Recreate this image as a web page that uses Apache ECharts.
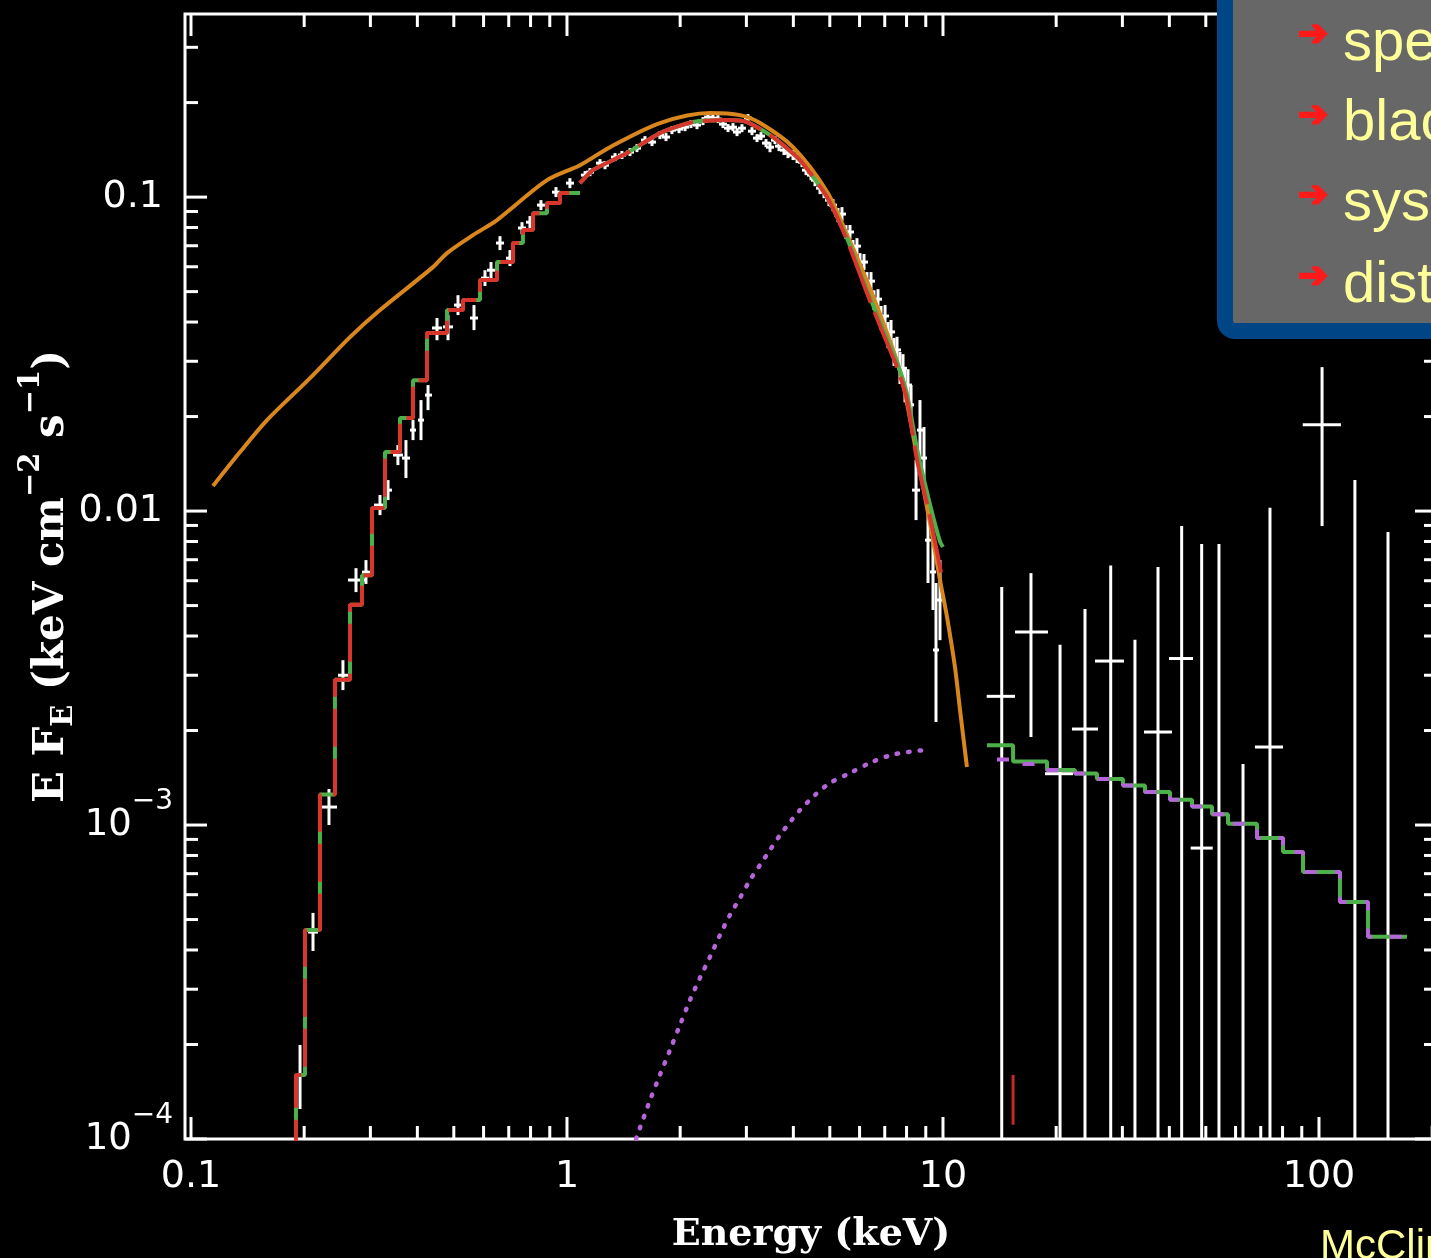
<!DOCTYPE html>
<html><head><meta charset="utf-8">
<script src="https://cdn.jsdelivr.net/npm/echarts@6/dist/echarts.min.js"></script>
<style>html,body{margin:0;padding:0;background:#000}#c{width:1431px;height:1258px}</style>
</head><body><div id="c"></div><script>
// ---------- axis ranges and ticks ----------
const xMin = 0.0964, xMax = 206, yMin = 1e-4, yMax = 0.383;
const xTickValues = [0.1, 1, 10, 100];
const xTickLabels = ['0.1', '1', '10', '100'];
const xMinorTicks = [0.2,0.3,0.4,0.5,0.6,0.7,0.8,0.9,2,3,4,5,6,7,8,9,20,30,40,50,60,70,80,90,200];
const yTickValues = [1e-4, 1e-3, 0.01, 0.1];
const yTickLabels = ['10^-4', '10^-3', '0.01', '0.1'];
const yMinorTicks = [2e-4,3e-4,4e-4,5e-4,6e-4,7e-4,8e-4,9e-4,2e-3,3e-3,4e-3,5e-3,6e-3,7e-3,8e-3,9e-3,0.02,0.03,0.04,0.05,0.06,0.07,0.08,0.09,0.2,0.3];

// ---------- disk model (orange) ----------
const diskE = [0.1144,0.1350,0.1593,0.2073,0.2648,0.3182,0.4401,0.4797,0.5623,0.6514,0.8847,1.083,1.301,1.767,2.400,2.885,3.262,3.992,4.916,5.556,6.279,6.925,7.546,7.829,8.529,9.236,9.818,10.25,10.76,11.10,11.58];
const diskF = [0.01201,0.01541,0.01949,0.02652,0.03582,0.04367,0.05983,0.06632,0.07568,0.08449,0.1132,0.1264,0.1442,0.1721,0.1852,0.1824,0.1721,0.1442,0.1040,0.0760,0.0540,0.0400,0.0300,0.0255,0.0150,0.009158,0.006032,0.004597,0.003186,0.002324,0.001530];

// ---------- total model, low energy (red / green histograms) ----------
const redLoE = [0.185,0.1902,0.2010,0.2203,0.2415,0.2648,0.2850,0.3030,0.3281,0.3596,0.3895,0.4243,0.4797,0.5289,0.5870,0.6514,0.7185,0.7636,0.8121,0.8847,0.9580,1.083];
const redLoF = [3e-5,1.60e-4,4.63e-4,1.25e-3,2.90e-3,5.03e-3,6.25e-3,1.022e-2,1.541e-2,1.978e-2,2.61e-2,3.69e-2,4.37e-2,4.70e-2,5.44e-2,6.21e-2,7.14e-2,7.85e-2,8.89e-2,9.57e-2,0.1030,0.1030];
const redHiE = [1.083,1.172,1.444,1.767,2.163,2.664,3.011,3.531,4.166,4.916,5.556,6.279,6.925,7.546,8.024,8.529,9.236,9.818,9.938];
const redHiF = [0.1108,0.1219,0.1381,0.1599,0.1734,0.1759,0.1734,0.1553,0.1312,0.1000,0.0730,0.0495,0.0369,0.02874,0.0226,0.01454,0.00957,0.00663,0.00603];
const greenLoE = [0.185,0.1902,0.2010,0.2203,0.2415,0.2648,0.2850,0.3030,0.3281,0.3596,0.3895,0.4243,0.4797,0.5289,0.5870,0.6514,0.7185,0.7636,0.8121,0.8847,0.9580,1.083];
const greenLoF = [3e-5,1.60e-4,4.63e-4,1.25e-3,2.90e-3,5.03e-3,6.25e-3,1.022e-2,1.541e-2,1.978e-2,2.61e-2,3.69e-2,4.37e-2,4.70e-2,5.44e-2,6.21e-2,7.14e-2,7.85e-2,8.89e-2,9.57e-2,0.1030,0.1030];
const greenHiE = [1.083,1.172,1.444,1.767,2.163,2.664,3.011,3.531,4.166,4.916,5.556,6.279,6.925,7.546,8.024,8.529,9.236,9.818,10.00];
const greenHiF = [0.1108,0.1219,0.1381,0.1599,0.1734,0.1759,0.1734,0.1553,0.1312,0.1000,0.0740,0.0505,0.0380,0.0298,0.0236,0.0158,0.0105,0.0080,0.00768];

// ---------- total model, hard X-ray (green histogram) ----------
const greenHxE = [13.09,15.36,18.91,22.44,25.68,30.11,34.45,40.15,45.95,51.93,57.28,68.41,80.23,90.68,113.7,135.0,171.4];
const greenHxF = [1.794e-3,1.594e-3,1.497e-3,1.458e-3,1.401e-3,1.336e-3,1.274e-3,1.204e-3,1.145e-3,1.082e-3,1.009e-3,9.09e-4,8.20e-4,7.09e-4,5.69e-4,4.41e-4,4.41e-4];

// ---------- power-law component (purple) ----------
const plE = [1.526,1.663,1.767,1.879,1.998,2.124,2.258,2.400,2.552,2.713,2.885,3.067,3.261,3.467,3.686,3.918,4.166,4.567,5.006,5.658,6.474,7.455,8.957];
const plF = [1.0e-4,1.33e-4,1.60e-4,1.92e-4,2.31e-4,2.77e-4,3.26e-4,3.80e-4,4.46e-4,5.17e-4,5.86e-4,6.68e-4,7.46e-4,8.33e-4,9.29e-4,1.022e-3,1.116e-3,1.246e-3,1.361e-3,1.464e-3,1.587e-3,1.683e-3,1.733e-3];
const plHxE = [13.92,15.36,18.91,22.44,25.68,30.11,34.45,40.15,45.95,51.93,57.28,68.41,80.23,90.68,113.7,135.0,171.4];
const plHxF = [1.616e-3,1.564e-3,1.497e-3,1.458e-3,1.401e-3,1.336e-3,1.274e-3,1.204e-3,1.145e-3,1.082e-3,1.009e-3,9.09e-4,8.20e-4,7.09e-4,5.69e-4,4.41e-4,4.41e-4];

// ---------- soft X-ray data (white crosses) ----------
const loE = [0.1950,0.2111,0.2328,0.2536,0.2747,0.2920,0.3182,0.3342,0.3551,0.3730,0.3895,0.4090,0.4270,0.4511,0.4826,0.5130,0.5658,0.6052,0.6280,0.6634,0.7053,0.7592,0.7972,0.8527,0.9348,1.018,1.117,1.224,1.342,1.471,1.612,1.767,1.902,2.060,2.217,2.371,2.521,2.681,2.833,3.029,3.202,3.383,3.574,3.777,3.992,4.217,4.456,4.709,4.975,5.257,5.521,5.763,6.016,6.279,6.554,6.842,7.142,7.410,7.685,7.925,8.223,8.479,8.686,8.902,9.123,9.406,9.581,9.818];
const loF = [1.60e-4,4.56e-4,1.141e-3,3.00e-3,6.03e-3,6.39e-3,1.045e-2,1.166e-2,1.508e-2,1.475e-2,1.811e-2,1.949e-2,2.341e-2,3.83e-2,3.86e-2,4.53e-2,4.12e-2,5.52e-2,5.85e-2,7.14e-2,6.39e-2,7.97e-2,8.32e-2,9.43e-2,0.1037,0.1108,0.1175,0.1283,0.1341,0.1391,0.1519,0.1576,0.1634,0.1670,0.1696,0.1798,0.1772,0.1658,0.1611,0.1785,0.1541,0.1486,0.1519,0.1411,0.1361,0.1292,0.1175,0.1068,0.0978,0.0877,0.0774,0.0688,0.0621,0.0536,0.0470,0.0412,0.0363,0.0321,0.0285,0.0252,0.0218,0.01166,0.01811,0.01475,0.00808,0.00640,0.00361,0.00521];
const loFlo = [1.246e-4,3.97e-4,1.0e-3,2.69e-3,5.52e-3,5.86e-3,9.71e-3,1.084e-2,1.401e-2,1.274e-2,1.683e-2,1.683e-2,2.097e-2,3.50e-2,3.50e-2,4.21e-2,3.77e-2,5.21e-2,5.52e-2,6.78e-2,6.03e-2,7.62e-2,7.97e-2,9.09e-2,0.1000,0.1068,0.1141,0.1246,0.1302,0.1351,0.1475,0.1530,0.1587,0.1622,0.1646,0.1746,0.1721,0.1611,0.1564,0.1734,0.1497,0.1442,0.1475,0.1361,0.1312,0.1246,0.1132,0.1022,0.0936,0.0832,0.0735,0.0649,0.0581,0.0498,0.0437,0.0377,0.0330,0.0290,0.0254,0.0222,0.0188,0.00936,0.01475,0.01166,0.00590,0.00484,0.00213,0.00388];
const loFhi = [1.993e-4,5.25e-4,1.302e-3,3.35e-3,6.58e-3,6.98e-3,1.125e-2,1.255e-2,1.622e-2,1.683e-2,1.949e-2,2.257e-2,2.519e-2,4.12e-2,4.21e-2,4.87e-2,4.53e-2,5.85e-2,6.21e-2,7.51e-2,6.78e-2,8.32e-2,8.70e-2,9.78e-2,0.1076,0.1149,0.1210,0.1321,0.1381,0.1432,0.1564,0.1622,0.1683,0.1721,0.1746,0.1852,0.1824,0.1708,0.1658,0.1838,0.1587,0.1530,0.1564,0.1464,0.1411,0.1341,0.1219,0.1116,0.1022,0.0923,0.0814,0.0730,0.0663,0.0577,0.0505,0.0450,0.0400,0.0356,0.0321,0.0285,0.0252,0.01454,0.02257,0.01852,0.01084,0.00826,0.00590,0.00698];
const loElo = [0.1913,0.2048,0.2230,0.2460,0.2616,0.2850,0.3067,0.3261,0.3445,0.3640,0.3824,0.4016,0.4192,0.4375,0.4680,0.5006,0.5521,0.5906,0.6126,0.6475,0.6883,0.7408,0.7780,0.8322,0.9123,0.9939,1.089,1.194,1.309,1.435,1.574,1.724,1.856,2.010,2.163,2.314,2.460,2.616,2.764,2.956,3.124,3.301,3.487,3.686,3.894,4.116,4.349,4.595,4.856,5.130,5.387,5.623,5.869,6.165,6.435,6.717,7.013,7.275,7.546,7.781,8.073,8.274,8.529,8.739,8.957,9.236,9.406,9.638];
const loEhi = [0.1985,0.2176,0.2445,0.2616,0.2903,0.2993,0.3301,0.3424,0.3662,0.3824,0.3967,0.4166,0.4375,0.4651,0.4975,0.5256,0.5798,0.6202,0.6436,0.6799,0.7228,0.7780,0.8171,0.8739,0.9580,1.044,1.144,1.254,1.375,1.507,1.652,1.811,1.950,2.111,2.272,2.430,2.584,2.748,2.903,3.105,3.281,3.467,3.663,3.870,4.091,4.322,4.567,4.826,5.099,5.387,5.623,5.905,6.165,6.395,6.676,6.970,7.275,7.546,7.829,8.073,8.376,8.686,8.847,9.067,9.293,9.581,9.759,10.00];
// second soft X-ray data set around the peak
const pkE   = [1.151,1.262,1.400,1.535,1.683,1.834,1.986,2.137,2.300,2.445,2.599,2.764,2.920,3.105,3.281,3.467,3.663,3.870,4.091,4.322,4.567,4.826,5.099,5.387,5.658,5.905,6.165,6.435,6.717,7.013,7.275,7.546,7.829,8.073];
const pkF   = [0.1201,0.1264,0.1361,0.1432,0.1497,0.1553,0.1646,0.1708,0.1746,0.1785,0.1708,0.1670,0.1658,0.1622,0.1564,0.1442,0.1453,0.1381,0.1331,0.1219,0.1132,0.1037,0.0943,0.0883,0.0774,0.0698,0.0621,0.0540,0.0473,0.0418,0.0372,0.0326,0.0285,0.0252];
const pkFlo = [0.1166,0.1227,0.1322,0.1391,0.1454,0.1508,0.1598,0.1659,0.1695,0.1733,0.1659,0.1622,0.1610,0.1575,0.1519,0.1390,0.1401,0.1331,0.1283,0.1175,0.1083,0.0992,0.0902,0.0839,0.0735,0.0658,0.0586,0.0505,0.0440,0.0386,0.0341,0.0296,0.0257,0.0224];
const pkFhi = [0.1237,0.1302,0.1402,0.1475,0.1542,0.1599,0.1695,0.1759,0.1798,0.1838,0.1759,0.1720,0.1707,0.1670,0.1611,0.1496,0.1507,0.1432,0.1381,0.1264,0.1183,0.1084,0.0985,0.0929,0.0815,0.0740,0.0659,0.0577,0.0509,0.0453,0.0406,0.0359,0.0316,0.0283];
const pkElo = [1.123,1.231,1.366,1.498,1.642,1.790,1.938,2.085,2.244,2.386,2.536,2.697,2.849,3.030,3.202,3.383,3.574,3.776,3.992,4.217,4.456,4.709,4.975,5.257,5.521,5.762,6.016,6.279,6.554,6.843,7.099,7.363,7.639,7.877];
const pkEhi = [1.180,1.293,1.435,1.573,1.725,1.879,2.035,2.190,2.357,2.506,2.663,2.833,2.992,3.182,3.362,3.553,3.754,3.966,4.192,4.429,4.680,4.945,5.225,5.521,5.798,6.051,6.318,6.595,6.884,7.187,7.456,7.733,8.023,8.273];

// ---------- hard X-ray data (white crosses) ----------
const hxE   = [14.33,17.14,20.48,23.86,27.93,37.31,43.13,48.75,74.07,101.9];
const hxElo = [13.07,15.54,18.68,22.03,25.37,34.24,39.91,45.58,67.55,90.52];
const hxEhi = [15.54,19.02,22.17,25.84,30.29,40.64,46.23,52.17,80.23,114.4];
const hxF   = [2.570e-3,4.117e-3,1.457e-3,2.022e-3,3.329e-3,1.978e-3,3.391e-3,8.446e-4,1.772e-3,1.884e-2];
const hxFlo = [5e-5,1.907e-3,5e-5,5e-5,5e-5,5e-5,5e-5,5e-5,5e-5,8.959e-3];
const hxFhi = [5.727e-3,6.344e-3,3.752e-3,4.873e-3,6.703e-3,6.631e-3,8.959e-3,7.850e-3,1.024e-2,2.874e-2];
// bars whose centre lies below the plot
const ulE   = [32.40,54.20,62.80,124.6,152.6];
const ulFhi = [3.892e-3,7.850e-3,1.564e-3,1.255e-2,8.573e-3];
const ulFlo = [5e-5,5e-5,5e-5,5e-5,5e-5];
// red hard X-ray point
const rdE = [15.36], rdFhi = [1.6e-4], rdFlo = [1.11e-4];

// ---------- annotation texts ----------
const bulletTexts = ['spectral state', 'black hole mass', 'system inclination', 'distance'];
const creditText = 'McClintock et al. 2006';

// ================= build chart =================
const zip = (a, b) => a.map((v, i) => [v, b[i]]);
const chart = echarts.init(document.getElementById('c'), null, {renderer: 'canvas'});

function errRender(params, api) {
  const cs = params.coordSys;
  const top = cs.y, bot = cs.y + cs.height, lft = cs.x, rgt = cs.x + cs.width;
  const cy = y => Math.max(top, Math.min(bot, y));
  const cx = x => Math.max(lft, Math.min(rgt, x));
  const e = api.value(0), f = api.value(1), flo = api.value(2), fhi = api.value(3), elo = api.value(4), ehi = api.value(5);
  const pHi = api.coord([e, fhi]), pLo = api.coord([e, flo]);
  const children = [{type: 'line', shape: {x1: pHi[0], y1: cy(pHi[1]), x2: pLo[0], y2: cy(pLo[1])}, style: {stroke: '#fff', lineWidth: 3}}];
  const a = api.coord([elo, f]), b = api.coord([ehi, f]);
  if (a[1] >= top && a[1] <= bot) children.push({type: 'line', shape: {x1: cx(a[0]), y1: a[1], x2: cx(b[0]), y2: b[1]}, style: {stroke: '#fff', lineWidth: 3}});
  return {type: 'group', children};
}
function barRender(color) {
  return function (params, api) {
    const cs = params.coordSys;
    const top = cs.y, bot = cs.y + cs.height;
    const cy = y => Math.max(top, Math.min(bot, y));
    const e = api.value(0);
    const a = api.coord([e, api.value(1)]), b = api.coord([e, api.value(2)]);
    return {type: 'line', shape: {x1: a[0], y1: cy(a[1]), x2: b[0], y2: cy(b[1])}, style: {stroke: color, lineWidth: 3}};
  };
}
function xTickRender(params, api) {
  const cs = params.coordSys;
  const x = api.coord([api.value(0), yMin])[0];
  const len = api.value(2) === 0 ? 22 : 13;
  const b = cs.y + cs.height;
  return {type: 'group', children: [
    {type: 'line', shape: {x1: x, y1: b, x2: x, y2: b - len}, style: {stroke: '#fff', lineWidth: 3}},
    {type: 'line', shape: {x1: x, y1: cs.y, x2: x, y2: cs.y + len}, style: {stroke: '#fff', lineWidth: 3}}
  ]};
}
function yTickRender(params, api) {
  const cs = params.coordSys;
  const y = api.coord([xMin, api.value(1)])[1];
  const len = api.value(2) === 0 ? 22 : 13;
  const r = cs.x + cs.width;
  return {type: 'group', children: [
    {type: 'line', shape: {x1: cs.x, y1: y, x2: cs.x + len, y2: y}, style: {stroke: '#fff', lineWidth: 3}},
    {type: 'line', shape: {x1: r, y1: y, x2: r - len, y2: y}, style: {stroke: '#fff', lineWidth: 3}}
  ]};
}
function nearestLabel(v, vals, labels) {
  for (let i = 0; i < vals.length; i++) if (Math.abs(Math.log10(v) - Math.log10(vals[i])) < 1e-6) return labels[i];
  return '';
}

const xTickData = xTickValues.map(v => [v, yMin, 0]).concat(xMinorTicks.map(v => [v, yMin, 1]));
const yTickData = yTickValues.map(v => [xMin, v, 0]).concat(yMinorTicks.map(v => [xMin, v, 1]));
const loData = loE.map((e, i) => [e, loF[i], loFlo[i], loFhi[i], loElo[i], loEhi[i]]);
const pkData = pkE.map((e, i) => [e, pkF[i], pkFlo[i], pkFhi[i], pkElo[i], pkEhi[i]]);
const hxData = hxE.map((e, i) => [e, hxF[i], hxFlo[i], hxFhi[i], hxElo[i], hxEhi[i]]);
const ulData = ulE.map((e, i) => [e, ulFhi[i], ulFlo[i]]);
const rdData = rdE.map((e, i) => [e, rdFhi[i], rdFlo[i]]);

const lineBase = {type: 'line', showSymbol: false, symbol: 'none', clip: true, silent: true, animation: false};
const serifBold = {fontFamily: 'DejaVu Serif', fontWeight: 'bold', color: '#fff'};
const arrowStyle = {fill: '#FF1A1A', stroke: '#FF1A1A', lineWidth: 2, font: '36px "DejaVu Sans"', verticalAlign: 'middle'};

const option = {
  backgroundColor: '#000',
  animation: false,
  grid: {left: 185, top: 14, width: 1252, height: 1125, outerBoundsMode: 'none', containLabel: false,
    show: true, borderColor: '#fff', borderWidth: 3, backgroundColor: 'transparent'},
  xAxis: {
    type: 'log', logBase: 10, min: xMin, max: xMax,
    axisLine: {show: false}, axisTick: {show: false}, splitLine: {show: false}, minorTick: {show: false},
    axisLabel: {color: '#fff', fontSize: 38, fontFamily: 'DejaVu Sans', margin: 19, showMinLabel: true, showMaxLabel: true, hideOverlap: false,
      formatter: v => nearestLabel(v, xTickValues, xTickLabels)},
    name: 'Energy (keV)', nameLocation: 'middle', nameGap: 77, nameMoveOverlap: false,
    nameTextStyle: Object.assign({fontSize: 38}, serifBold)
  },
  yAxis: {
    type: 'log', logBase: 10, min: yMin, max: yMax,
    axisLine: {show: false}, axisTick: {show: false}, splitLine: {show: false}, minorTick: {show: false},
    axisLabel: {color: '#fff', fontSize: 38, fontFamily: 'DejaVu Sans', margin: 12, hideOverlap: false,
      formatter: v => {
        const s = nearestLabel(v, yTickValues, yTickLabels);
        if (!s) return '';
        if (s.indexOf('^') >= 0) { const p = s.split('^'); return '{b|' + p[0] + '}{s|' + p[1].replace('-', '\u2212') + '}'; }
        return '{p|' + s + '}';
      },
      rich: {
        p: {fontSize: 38, fontFamily: 'DejaVu Sans', color: '#fff', padding: [0, 10, 0, 0]},
        b: {fontSize: 37, fontFamily: 'DejaVu Sans', color: '#fff', lineHeight: 74, verticalAlign: 'middle'},
        s: {fontSize: 28, fontFamily: 'DejaVu Sans', color: '#fff', lineHeight: 32, verticalAlign: 'top'}
      }},
    name: '{t|E F}{sub|E}{t| (keV cm}{sup|\u22122}{t| s}{sup|\u22121}{t|)}',
    nameLocation: 'middle', nameRotate: 90, nameGap: 98, nameMoveOverlap: false,
    nameTextStyle: Object.assign({fontSize: 42,
      rich: {
        t: Object.assign({fontSize: 42, lineHeight: 70, verticalAlign: 'middle'}, serifBold),
        sub: Object.assign({fontSize: 29, lineHeight: 30, verticalAlign: 'bottom', padding: [0, 0, 8, 0]}, serifBold),
        sup: Object.assign({fontSize: 29, lineHeight: 30, verticalAlign: 'top'}, serifBold)
      }}, serifBold)
  },
  series: [
    {type: 'custom', name: 'xticks', renderItem: xTickRender, data: xTickData, encode: {x: 0, y: 1}, silent: true, z: 10},
    {type: 'custom', name: 'yticks', renderItem: yTickRender, data: yTickData, encode: {x: 0, y: 1}, silent: true, z: 10},
    {type: 'custom', name: 'soft data', renderItem: errRender, data: loData, encode: {x: 0, y: 1}, silent: true, z: 1},
    {type: 'custom', name: 'soft data 2', renderItem: errRender, data: pkData, encode: {x: 0, y: 1}, silent: true, z: 1},
    {type: 'custom', name: 'hard data', renderItem: errRender, data: hxData, encode: {x: 0, y: 1}, silent: true, z: 1},
    {type: 'custom', name: 'hard limits', renderItem: barRender('#fff'), data: ulData, encode: {x: 0, y: 1}, silent: true, z: 1},
    {type: 'custom', name: 'red point', renderItem: barRender('#C8282A'), data: rdData, encode: {x: 0, y: 1}, silent: true, z: 1},
    Object.assign({}, lineBase, {name: 'disk', data: zip(diskE, diskF), smooth: 0.3, lineStyle: {color: '#D9861C', width: 4}, z: 2}),
    Object.assign({}, lineBase, {name: 'green lo', data: zip(greenLoE, greenLoF), step: 'end', lineStyle: {color: '#4DB04A', width: 4}, z: 3}),
    Object.assign({}, lineBase, {name: 'green hi', data: zip(greenHiE, greenHiF), smooth: 0.2, lineStyle: {color: '#4DB04A', width: 4}, z: 3}),
    Object.assign({}, lineBase, {name: 'red lo', data: zip(redLoE, redLoF), step: 'end', lineStyle: {color: '#D8362D', width: 4, type: [38, 12]}, z: 4}),
    Object.assign({}, lineBase, {name: 'red hi', data: zip(redHiE, redHiF), smooth: 0.2, lineStyle: {color: '#D8362D', width: 4, type: [60, 10]}, z: 4}),
    Object.assign({}, lineBase, {name: 'green hx', data: zip(greenHxE, greenHxF), step: 'end', lineStyle: {color: '#4DB04A', width: 4}, z: 3}),
    Object.assign({}, lineBase, {name: 'powerlaw', data: zip(plE, plF), smooth: 0.3, lineStyle: {color: '#B565D9', width: 4.5, type: [1.5, 10], cap: 'round'}, z: 5}),
    Object.assign({}, lineBase, {name: 'powerlaw hx', data: zip(plHxE, plHxF), step: 'end', lineStyle: {color: '#B565D9', width: 4, type: [12, 18]}, z: 5})
  ],
  graphic: [
    {type: 'rect', shape: {x: 1225, y: -30, width: 400, height: 361, r: 10}, style: {fill: '#676767', stroke: '#004586', lineWidth: 16}, z: 100},
    {type: 'text', x: 1298, y: 36, style: Object.assign({text: '\u2794'}, arrowStyle), z: 101},
    {type: 'text', x: 1298, y: 117, style: Object.assign({text: '\u2794'}, arrowStyle), z: 101},
    {type: 'text', x: 1298, y: 197, style: Object.assign({text: '\u2794'}, arrowStyle), z: 101},
    {type: 'text', x: 1298, y: 278, style: Object.assign({text: '\u2794'}, arrowStyle), z: 101},
    {type: 'text', x: 1343, y: 44, style: {text: bulletTexts[0], fill: '#FFFF99', font: '58px "Liberation Sans"', verticalAlign: 'middle'}, z: 101},
    {type: 'text', x: 1343, y: 124, style: {text: bulletTexts[1], fill: '#FFFF99', font: '58px "Liberation Sans"', verticalAlign: 'middle'}, z: 101},
    {type: 'text', x: 1343, y: 204, style: {text: bulletTexts[2], fill: '#FFFF99', font: '58px "Liberation Sans"', verticalAlign: 'middle'}, z: 101},
    {type: 'text', x: 1343, y: 286, style: {text: bulletTexts[3], fill: '#FFFF99', font: '58px "Liberation Sans"', verticalAlign: 'middle'}, z: 101},
    {type: 'text', x: 1320, y: 1247, style: {text: creditText, fill: '#FFFF99', font: '42px "Liberation Sans"', verticalAlign: 'middle'}, z: 101}
  ]
};
chart.setOption(option);
</script></body></html>
